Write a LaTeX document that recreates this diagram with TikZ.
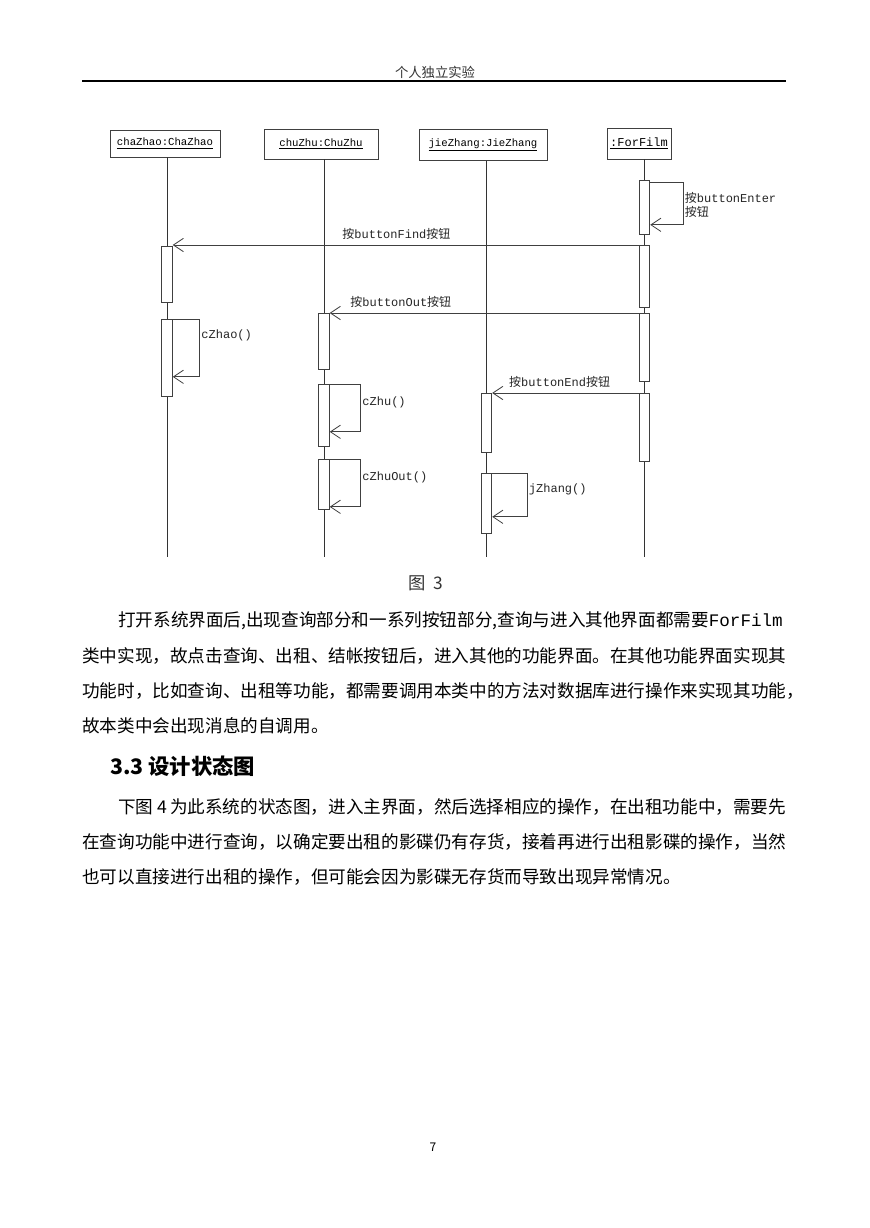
\documentclass[tikz,border=0pt]{standalone}
\usepackage{fontspec}
\setmainfont{Noto Sans CJK SC}
\setmonofont{Liberation Mono}
\newfontfamily\cjk{Noto Sans CJK SC}
\usetikzlibrary{arrows.meta}
\begin{document}
\begin{tikzpicture}[x=0.75pt, y=-0.75pt, >={Straight Barb[length=7.5pt,width=10pt]},
    head/.style={draw=black!75, line width=0.6pt, inner sep=0, font=\ttfamily\fontsize{8}{9}\selectfont},
    act/.style={draw=black!75, line width=0.6pt, fill=white, minimum width=8pt, inner sep=0, anchor=north},
    msg/.style={->, black!75, line width=0.6pt},
    lbl/.style={font=\ttfamily\fontsize{9}{10.5}\selectfont, inner sep=1pt, text=black!85},
    body/.style={right, inner sep=0, font=\fontsize{13.2}{15}\selectfont}]
\useasboundingbox[fill=white] (0,0) rectangle (869,1228);
% page header
\node[font=\fontsize{10}{12}\selectfont, text=black!80] (hdr) at (435,72) {个人独立实验};
\draw[line width=0.9pt] (82,81) -- (786,81);
% objects
\node[head, minimum width=82.5pt, minimum height=20.25pt] (chaZhao) at (165,143.5) {\underline{chaZhao:ChaZhao}};
\node[head, minimum width=85.5pt, minimum height=22.5pt] (chuZhu) at (321,144) {\underline{chuZhu:ChuZhu}};
\node[head, minimum width=96pt, minimum height=23.25pt] (jieZhang) at (483,145) {\underline{jieZhang:JieZhang}};
\node[head, minimum width=48pt, minimum height=23.25pt, font=\ttfamily\fontsize{9}{10}\selectfont] (ForFilm) at (639,143.5) {\underline{:ForFilm}};
\coordinate (cz) at (167,557);
\coordinate (uz) at (324,557);
\coordinate (jz) at (486.5,557);
\coordinate (fz) at (644.5,557);
\draw[black!80, line width=0.6pt] (chaZhao.south -| cz) -- (cz);
\draw[black!80, line width=0.6pt] (chuZhu.south -| uz) -- (uz);
\draw[black!80, line width=0.6pt] (jieZhang.south -| jz) -- (jz);
\draw[black!80, line width=0.6pt] (ForFilm.south -| fz) -- (fz);
% activations
\node[act, minimum height=40.5pt] (fa1) at (644.5,180) {};
\node[act, minimum height=46.5pt] (fa2) at (644.5,245) {};
\node[act, minimum height=51pt] (fa3) at (644.5,313) {};
\node[act, minimum height=51pt] (fa4) at (644.5,393) {};
\node[act, minimum height=42pt] (ca1) at (167,246) {};
\node[act, minimum height=57.75pt] (ca2) at (167,319) {};
\node[act, minimum height=42pt] (ua1) at (324,313) {};
\node[act, minimum height=46.5pt] (ua2) at (324,384) {};
\node[act, minimum height=37.5pt] (ua3) at (324,459) {};
\node[act, minimum height=44.25pt] (ja1) at (486.5,393) {};
\node[act, minimum height=45pt] (ja2) at (486.5,473) {};
% messages
\draw[msg] ([yshift=-1.5pt]fa1.north east) -- ++(33,0) |- ([yshift=7.5pt]fa1.south east)
    node[lbl, right, pos=0.27, align=left]{{\cjk 按}buttonEnter\\{\cjk 按钮}};
\draw[msg] (fa2.north west) -- (fa2.north west -| ca1.east)
    node[lbl, above=3pt, pos=0.52]{{\cjk 按}buttonFind{\cjk 按钮}};
\draw[msg] (ca2.north east) -- ++(27,0) |- ([yshift=15pt]ca2.south east)
    node[lbl, right, pos=0.14]{cZhao()};
\draw[msg] (fa3.north west) -- (fa3.north west -| ua1.east)
    node[lbl, above=3pt, pos=0.77]{{\cjk 按}buttonOut{\cjk 按钮}};
\draw[msg] (ua2.north east) -- ++(31,0) |- ([yshift=11.25pt]ua2.south east)
    node[lbl, right, pos=0.19]{cZhu()};
\draw[msg] (ua3.north east) -- ++(31,0) |- ([yshift=2.25pt]ua3.south east)
    node[lbl, right, pos=0.19]{cZhuOut()};
\draw[msg] (fa4.north west) -- (fa4.north west -| ja1.east)
    node[lbl, above=3pt, pos=0.54]{{\cjk 按}buttonEnd{\cjk 按钮}};
\draw[msg] (ja2.north east) -- ++(35,0) |- ([yshift=12.75pt]ja2.south east)
    node[lbl, right, pos=0.19]{jZhang()};
% caption and text
\node[font=\fontsize{13}{15}\selectfont, text=black!80] (cap) at (426,583) {图\ \ 3};
\node[body] (p1) at (118,621) {打开系统界面后,出现查询部分和一系列按钮部分,查询与进入其他界面都需要{\ttfamily ForFilm}};
\node[body] (p2) at (82,656) {类中实现，故点击查询、出租、结帐按钮后，进入其他的功能界面。在其他功能界面实现其};
\node[body] (p3) at (82,691) {功能时，比如查询、出租等功能，都需要调用本类中的方法对数据库进行操作来实现其功能，};
\node[body] (p4) at (82,726) {故本类中会出现消息的自调用。};
\node[body, font=\bfseries\fontsize{16}{18}\selectfont] (sec) at (110,766) {3.3 设计状态图};
\node[body] (q1) at (118,807) {下图 4\,为此系统的状态图，进入主界面，然后选择相应的操作，在出租功能中，需要先};
\node[body] (q2) at (82,842) {在查询功能中进行查询，以确定要出租的影碟仍有存货，接着再进行出租影碟的操作，当然};
\node[body] (q3) at (82,877) {也可以直接进行出租的操作，但可能会因为影碟无存货而导致出现异常情况。};
\node[font=\fontsize{9}{11}\selectfont] (pg) at (433,1147) {7};
\end{tikzpicture}
\end{document}
